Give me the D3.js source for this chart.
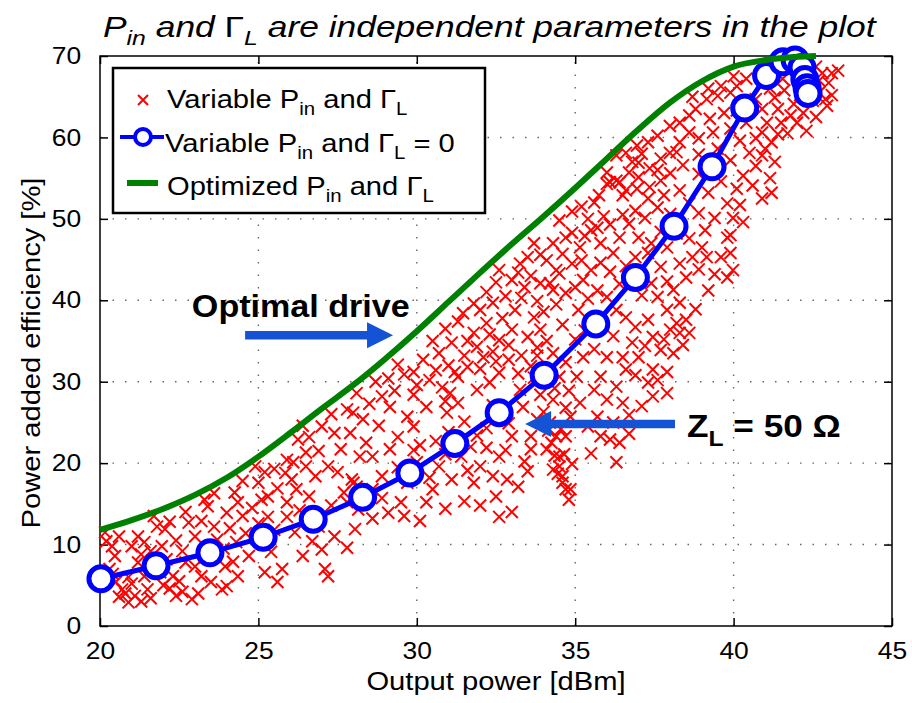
<!DOCTYPE html>
<html>
<head>
<meta charset="utf-8">
<script src="https://cdn.jsdelivr.net/npm/d3@7"></script>
<style>
  body { margin: 0; background: #fff; }
  svg { display: block; font-family: "Liberation Sans", Arial, sans-serif; }
  text { white-space: pre; }
</style>
</head>
<body>
<div id="chart"></div>
<script>
// axis ticks
const xTicks = [20, 25, 30, 35, 40, 45];
const yTicks = [0, 10, 20, 30, 40, 50, 60, 70];

// red crosses: variable Pin and Gamma_L  [Pout dBm, PAE %]
const sweepPoints = [
  [20.16,11.5],[20.38,9.8],[20.47,8.6],[20.3,7.0],[20.7,4.5],[20.9,2.9],[21.1,3.7],[21.0,9.8],[21.2,11.0],[21.4,6.1],
  [21.5,4.5],[21.7,13.5],[21.8,12.2],[22.05,11.9],[21.95,9.8],[22.3,6.1],[22.4,3.7],[22.6,4.2],[22.7,14.0],[22.8,12.7],
  [23.0,7.3],[23.2,6.1],[23.3,15.5],[23.4,14.7],[23.6,12.2],[23.7,10.6],[23.85,4.5],[24.0,4.9],[23.95,7.3],[24.25,16.4],
  [24.35,15.2],[24.5,13.5],[24.7,8.6],[24.9,19.6],[25.0,17.6],[25.1,15.5],[25.3,15.9],[25.4,9.1],[25.6,5.4],[25.75,7.0],
  [25.85,18.8],[26.05,18.0],[25.9,20.4],[26.25,22.9],[26.4,24.6],[26.5,21.3],[26.6,15.9],[26.8,18.4],[27.0,9.4],[27.1,7.0],
  [27.2,6.1],[27.4,23.7],[27.6,21.7],[27.8,26.6],[27.95,18.0],[28.05,11.9],[28.15,14.3],[27.4,11.0],[26.15,11.5],[26.4,8.6],
  [24.35,6.1],[23.5,5.4],[22.7,7.8],[21.2,7.8],[20.5,5.4],
  [20.6,3.6],[20.8,4.0],[21.3,3.0],[21.6,3.4],[22.0,5.0],[22.2,4.6],[22.9,3.3],[23.1,4.0],[22.5,5.5],[21.9,6.6],
  [20.9,6.0],[21.3,8.8],[22.1,8.2],[22.6,9.2],[23.3,8.4],[23.9,9.5],[24.3,10.3],[24.6,11.4],[25.0,12.6],[25.5,11.8],
  [25.9,13.4],[26.3,14.2],[26.9,12.2],[27.3,14.8],[27.7,16.4],[28.1,17.1],[24.2,7.9],[25.2,6.6],[26.7,10.4],[27.8,9.6],
  [20.2,10.4],[20.6,11.0],[20.4,6.4],[21.0,5.2],[21.6,9.2],[21.4,10.3],[22.4,10.5],[22.2,12.8],[23.0,11.0],[23.2,12.9],
  [23.6,16.3],[24.0,13.9],[24.1,12.0],[24.5,17.8],[24.8,14.5],[25.3,13.4],[25.6,16.9],[25.9,15.2],[26.2,16.8],[26.5,19.6],
  [26.1,20.1],[25.5,19.3],[25.2,18.9],
  [26.9,21.5],[27.2,19.6],[27.5,18.9],[26.6,23.2],[27.0,24.5],[27.3,26.0],[28.3,25.4],[28.5,27.3],[28.1,28.6],[28.8,24.6],
  [28.7,30.0],[29.1,30.4],[29.6,30.9],[29.3,28.9],[29.9,31.2],
  [31.46,38.4],[32.0,38.8],[32.4,39.7],[32.6,43.7],[33.0,42.5],[33.26,44.5],[33.5,45.3],[33.9,42.1],[34.1,44.9],[34.4,43.7],
  [33.7,37.9],[33.9,36.4],[33.5,35.5],[33.0,36.4],[32.6,35.1],[32.2,37.2],[31.8,36.0],[31.1,34.8],[30.7,33.5],[30.2,32.7],
  [30.4,30.2],[29.4,32.1],[28.9,28.2],[29.15,26.9],[27.99,26.2],[27.9,23.7],[28.4,22.5],[28.6,20.8],[29.7,25.7],[29.9,24.5],
  [30.3,26.9],[30.95,26.2],[31.05,28.6],[31.3,30.6],[31.6,31.8],[31.9,29.0],[32.3,29.9],[32.6,31.1],[32.9,32.7],[32.1,33.0],
  [33.26,29.0],[33.35,26.9],[33.6,23.3],[33.0,23.3],[32.6,20.8],[32.85,18.0],[32.5,15.9],[33.0,14.0],[32.0,19.6],[31.8,17.6],
  [31.4,20.8],[31.1,18.0],[30.7,19.6],[30.5,16.8],[30.3,15.2],[30.0,20.1],[29.7,17.6],[29.5,15.2],[29.15,21.7],[28.9,18.4],
  [28.6,16.8],[28.2,20.8],[28.0,17.6],[27.8,15.2],[34.5,30.6],[34.3,27.8],[34.4,23.3],[34.5,19.6],[34.7,16.8],[34.2,25.0],
  [34.1,21.7],
  [30.6,22.7],[31.0,23.8],[31.5,25.1],[31.7,22.0],[32.2,24.3],[32.4,27.1],[31.3,27.4],[30.8,29.3],[29.4,23.2],[29.9,28.4],
  [30.1,22.2],[32.8,21.6],[33.4,20.2],[33.2,17.1],[32.9,24.9],[31.9,34.3],[32.4,33.7],[32.9,34.5],[33.3,33.2],[33.6,31.9],
  [33.8,34.2],[33.3,40.3],[33.8,39.9],[34.3,41.3],[33.1,38.8],
  [30.5,35.0],[30.9,36.5],[31.3,37.4],[31.0,32.0],[31.5,33.2],[31.8,39.6],[32.2,41.0],[32.5,42.2],[32.8,40.5],[33.2,43.4],
  [33.6,43.0],[33.4,41.6],[32.7,37.8],[32.3,35.8],[31.6,35.0],[31.2,31.2],[30.6,31.4],[30.0,29.6],[30.9,27.6],[32.0,31.6],
  [32.5,32.5],[33.2,31.0],[33.7,30.5],[33.8,33.2],[34.1,35.0],[34.0,38.6],[34.4,39.5],[34.6,37.0],[34.3,33.5],[34.7,32.4],
  [35.0,35.2],[35.3,36.3],[35.1,38.8],[35.4,40.2],[35.0,41.6],
  [33.9,28.4],[34.0,26.3],[34.15,24.0],[34.25,22.5],[34.35,20.9],[34.45,18.7],[34.6,17.6],[34.8,15.5],[34.65,21.1],[34.55,24.2],
  [34.7,26.8],[34.9,19.9],[34.35,29.2],[34.8,28.9],
  [28.6,13.2],[29.1,13.9],[29.6,13.5],[30.1,12.9],[30.9,14.4],[31.5,15.3],[32.0,14.8],[32.6,13.4],
  [28.9,15.7],[29.4,19.5],[29.9,21.6],[30.4,18.2],[30.9,21.1],[31.6,19.1],[32.2,21.9],[32.4,18.4],[31.9,23.4],[33.6,21.7],
  [33.8,25.4],[33.5,19.0],
  [36.0,54.3],[36.3,54.7],[36.6,53.5],[37.0,55.1],[37.35,53.9],[37.7,54.7],[38.3,53.5],[38.6,51.9],[38.9,50.7],[39.8,51.9],
  [39.8,47.7],[39.98,43.7],[39.6,45.3],[39.0,46.5],[38.7,45.3],[38.5,42.8],[38.3,39.7],[38.5,37.6],[38.3,36.0],[38.0,36.4],
  [37.9,38.8],[37.6,40.4],[37.4,42.1],[37.7,44.1],[37.9,46.5],[37.3,45.8],[37.0,47.7],[36.7,49.4],[36.4,47.7],[36.2,45.8],
  [35.8,47.0],[35.5,48.6],[35.15,46.5],[34.9,44.5],[34.7,47.7],[34.5,49.8],[34.3,47.0],[34.5,43.3],[34.2,42.1],[34.7,40.9],
  [35.25,42.5],[35.5,43.7],[35.7,41.2],[36.0,40.4],[36.3,38.8],[36.6,37.9],[36.9,36.7],[37.3,37.6],[37.45,35.5],[37.7,33.9],
  [37.45,31.5],[37.3,29.9],[37.45,28.2],[37.0,33.0],[36.8,34.8],[36.5,33.0],[36.6,31.5],[36.3,29.4],[36.5,27.4],[36.2,25.0],
  [36.4,22.5],[36.3,20.1],[36.0,33.0],[35.8,30.6],[35.6,29.0],[36.0,27.8],[35.7,25.7],[35.8,23.3],[35.25,33.0],[35.05,30.6],
  [35.15,27.4],[34.85,25.7],[34.7,23.3],[34.5,20.8],[34.6,18.4],[34.85,16.8],[34.3,19.2],[38.2,37.2],[38.6,36.0],[39.15,45.3],
  [39.8,42.8],[39.9,45.8],
  [36.9,30.8],[37.1,27.0],[36.7,25.9],[37.6,30.2],[37.9,28.6],[36.1,22.9],[36.7,23.6],[35.4,24.5],[35.5,21.2],[37.2,34.4],
  [36.2,35.6],[35.6,34.0],[38.4,34.5],
  [34.9,48.3],[35.3,47.9],[35.7,48.9],[36.1,49.3],[36.5,50.5],[36.9,51.0],[37.2,50.1],[37.6,51.4],[38.0,50.6],[38.2,48.2],
  [37.7,48.4],[37.4,47.0],[36.9,45.3],[36.6,44.2],[36.1,43.5],[35.8,44.6],[35.2,44.9],[34.6,45.7],[36.4,42.0],[37.1,40.6],
  [37.9,42.3],[38.3,44.5],[38.6,47.6],[39.1,48.6],[39.4,50.1],[39.2,53.2],[39.6,54.6],[38.9,55.5],[38.4,56.6],[38.0,55.6],
  [37.6,56.0],[38.9,57.9],[39.5,58.6],[38.2,58.2],[37.1,58.0],[36.8,57.0],
  [38.8,38.9],[39.2,41.2],[39.4,43.2],[38.9,43.8],[38.1,41.3],[37.8,35.2],[37.9,31.2],[38.1,33.5],
  [40.1,66.3],[40.4,67.2],[39.9,65.5],[39.5,65.1],[39.15,64.7],[38.8,63.5],[38.6,62.7],[38.3,61.8],[37.99,61.4],[37.6,60.2],
  [37.3,59.4],[36.95,59.0],[36.6,58.1],[36.3,57.8],[36.0,55.7],[39.7,63.0],[39.9,61.1],[39.35,60.6],[39.25,62.3],[38.9,59.9],
  [38.6,60.6],[38.3,59.4],[37.99,58.1],[37.7,57.4],[37.35,56.2],[37.0,56.9],[36.7,55.7],[36.4,54.5],[36.1,54.5],[35.75,52.9],
  [40.7,64.7],[40.9,63.5],[41.05,61.8],[41.4,63.5],[41.5,61.8],[40.9,60.6],[41.2,59.4],[40.7,59.9],[40.5,58.1],[40.9,57.8],
  [40.7,56.5],[41.15,55.0],[41.2,53.2],[40.3,55.3],[40.1,53.7],[40.2,51.7],[40.3,49.6],[39.98,50.1],[39.9,48.0],[42.8,67.9],
  [43.0,66.7],[42.7,65.5],[42.95,63.9],[42.2,63.0],[42.0,61.8],[41.8,62.7],[41.9,68.8],[41.55,67.2],[41.15,66.0],[36.5,52.9],
  [36.95,53.7],[37.3,52.5],[37.8,52.9],
  [35.2,51.5],[35.4,50.0],[34.9,50.9],[35.9,50.3],[35.6,52.0],[33.7,47.0],[33.9,45.6],
  [43.3,68.2],[43.1,65.2],[42.5,64.5],[42.6,62.5],[41.7,60.5],[42.3,60.8],
  [39.9,57.2],[40.2,59.6],[40.4,61.8],[40.1,63.3],[39.6,66.3],[40.0,67.5],[39.2,66.0],[38.7,65.0],[41.3,64.9],[41.6,65.8],
  [42.1,65.2],[42.4,66.3],[42.7,67.0],[43.1,67.9],[42.6,68.7],[42.9,64.7],[41.9,64.1],[41.4,60.4],[41.0,58.6],[40.6,54.1],
  [40.9,52.5],[41.3,57.0]
];

// blue circles: variable Pin, Gamma_L = 0
const matchedPoints = [
  [20.03,5.8],[21.77,7.4],[23.47,9.0],[25.15,10.9],[26.73,13.1],[28.29,15.8],[29.78,18.8],[31.2,22.4],
  [32.6,26.2],[34.02,30.8],[35.65,37.1],[36.9,42.8],[38.12,49.1],[39.32,56.4],[40.35,63.6],[41.04,67.6],
  [41.56,69.3],[41.94,69.5],[42.16,68.6],[42.25,67.1],[42.32,66.1],[42.35,65.4]
];

// green line: optimized Pin and Gamma_L
const optimumPoints = [
  [20,11.8],[21,13.0],[22,14.4],[23,16.1],[24,18.2],[25,20.8],[26,23.7],[27,26.7],[28,29.6],[29,32.8],
  [30,36.2],[31,39.8],[32,43.4],[33,46.9],[34,50.3],[35,53.8],[36,57.4],[37,61.0],[38,64.3],[39,66.9],
  [40,68.7],[41,69.5],[42,69.9],[42.6,70.0]
];

const SX = 1.1; // horizontal stretch of the text in the original export

const W = 912, H = 703;
const margin = { top: 56, right: 20, bottom: 77, left: 100 };
const x = d3.scaleLinear().domain([20, 45]).range([margin.left, W - margin.right]);
const y = d3.scaleLinear().domain([0, 70]).range([H - margin.bottom, margin.top]);

const svg = d3.select("#chart").append("svg").attr("width", W).attr("height", H);

// rich text with subscripts, stretched like the reference
function richText(parent, px, py, parts, size, opts = {}) {
  const t = parent.append("text")
    .attr("transform", `translate(${px},${py}) scale(${opts.sx || SX},1)`)
    .attr("font-size", size)
    .attr("text-anchor", opts.anchor || "start")
    .attr("font-weight", opts.bold ? "bold" : null)
    .attr("font-style", opts.italic ? "italic" : null)
    .attr("fill", "#000");
  const shift = size * 0.27;
  let down = false;
  parts.forEach(p => {
    const s = typeof p === "string" ? { t: p } : p;
    const ts = t.append("tspan").text(s.t);
    if (s.sub) {
      ts.attr("font-size", size * 0.7).attr("dy", down ? 0 : shift);
      down = true;
    } else {
      if (down) ts.attr("dy", -shift);
      down = false;
    }
    if (s.upright) ts.attr("font-style", "normal");
  });
  return t;
}

// grid
const grid = svg.append("g").attr("stroke", "#666").attr("stroke-width", 1.4).attr("stroke-dasharray", "1.5,11");
grid.selectAll(".gx").data(xTicks.slice(1, -1)).join("line")
  .attr("x1", d => x(d)).attr("x2", d => x(d)).attr("y1", y(0)).attr("y2", y(70));
grid.selectAll(".gy").data(yTicks.slice(1, -1)).join("line")
  .attr("x1", x(20)).attr("x2", x(45)).attr("y1", d => y(d)).attr("y2", d => y(d));

// axes with inward ticks
const axisStyle = g => {
  g.select(".domain").remove();
  g.selectAll("line").attr("stroke", "#000").attr("stroke-width", 1.5);
  g.selectAll("text").attr("font-size", 24).attr("fill", "#000")
    .attr("font-family", '"Liberation Sans", Arial, sans-serif');
};
svg.append("g").attr("transform", `translate(0,${y(0)})`)
  .call(d3.axisBottom(x).tickValues(xTicks).tickSizeInner(-8).tickSizeOuter(0).tickPadding(16))
  .call(axisStyle)
  .call(g => g.selectAll("text").attr("transform", `scale(${SX},1)`));
svg.append("g").attr("transform", `translate(${x(20)},0)`)
  .call(d3.axisLeft(y).tickValues(yTicks).tickSizeInner(-8).tickSizeOuter(0).tickPadding(18))
  .call(axisStyle)
  .call(g => g.selectAll("text").attr("transform", `translate(-10,0) scale(${SX},1) translate(10,0)`));
svg.append("g").attr("transform", `translate(0,${y(70)})`)
  .call(d3.axisTop(x).tickValues(xTicks).tickSizeInner(-8).tickSizeOuter(0).tickFormat(""))
  .call(axisStyle);
svg.append("g").attr("transform", `translate(${x(45)},0)`)
  .call(d3.axisRight(y).tickValues(yTicks).tickSizeInner(-8).tickSizeOuter(0).tickFormat(""))
  .call(axisStyle);
svg.append("rect")
  .attr("x", x(20)).attr("y", y(70)).attr("width", x(45) - x(20)).attr("height", y(0) - y(70))
  .attr("fill", "none").attr("stroke", "#000").attr("stroke-width", 1.5);

// red crosses
const cross = "M-6,-6L6,6M-6,6L6,-6";
svg.append("g").selectAll("path").data(sweepPoints).join("path")
  .attr("transform", d => `translate(${x(d[0])},${y(d[1])})`)
  .attr("d", cross).attr("stroke", "#ff0000").attr("stroke-width", 2).attr("fill", "none");

// blue line with open circles
const line = d3.line().x(d => x(d[0])).y(d => y(d[1]));
svg.append("path").datum(matchedPoints).attr("d", line)
  .attr("fill", "none").attr("stroke", "#0000ff").attr("stroke-width", 5).attr("stroke-linejoin", "round");
svg.append("g").selectAll("circle").data(matchedPoints).join("circle")
  .attr("cx", d => x(d[0])).attr("cy", d => y(d[1])).attr("r", 12)
  .attr("fill", "#fff").attr("stroke", "#0000ff").attr("stroke-width", 5);

// green optimum curve
svg.append("path").datum(optimumPoints).attr("d", line.curve(d3.curveMonotoneX))
  .attr("fill", "none").attr("stroke", "#008000").attr("stroke-width", 6);

// title
richText(svg, 103, 37,
  ["P", { t: "in", sub: true }, " and ", { t: "Γ", upright: true }, { t: "L", sub: true },
   " are independent parameters in the plot"], 30, { italic: true, sx: 1.18 });

// axis labels
richText(svg, (x(20) + x(45)) / 2, 690, ["Output power [dBm]"], 26.5, { anchor: "middle" });
svg.append("text")
  .attr("transform", `translate(40,${(y(0) + y(70)) / 2 + 12}) rotate(-90) scale(${SX},1)`)
  .attr("text-anchor", "middle").attr("font-size", 26.5).text("Power added efficiency [%]");

// legend
const lg = svg.append("g");
lg.append("rect").attr("x", 113).attr("y", 68).attr("width", 372).attr("height", 145)
  .attr("fill", "#fff").attr("stroke", "#000").attr("stroke-width", 2.5);
lg.append("path").attr("transform", "translate(143,100)").attr("d", "M-5,-5L5,5M-5,5L5,-5")
  .attr("stroke", "#ff0000").attr("stroke-width", 2).attr("fill", "none");
richText(lg, 167, 108, ["Variable P", { t: "in", sub: true }, " and Γ", { t: "L", sub: true }], 26.5);
lg.append("line").attr("x1", 120).attr("x2", 164).attr("y1", 137).attr("y2", 137)
  .attr("stroke", "#0000ff").attr("stroke-width", 4);
lg.append("circle").attr("cx", 143).attr("cy", 137).attr("r", 8)
  .attr("fill", "#fff").attr("stroke", "#0000ff").attr("stroke-width", 4);
richText(lg, 165, 152, ["Variable P", { t: "in", sub: true }, " and Γ", { t: "L", sub: true }, " = 0"], 26.5);
lg.append("line").attr("x1", 127).attr("x2", 158).attr("y1", 183).attr("y2", 183)
  .attr("stroke", "#008000").attr("stroke-width", 6);
richText(lg, 167, 195, ["Optimized P", { t: "in", sub: true }, " and Γ", { t: "L", sub: true }], 26.5);

// annotation arrows
function arrow(x0, x1, yy) {
  const dir = Math.sign(x1 - x0), hl = 26, hh = 13, sw = 4.2;
  const xb = x1 - dir * hl;
  return `M${x0},${yy - sw}L${xb},${yy - sw}L${xb},${yy - hh}L${x1},${yy}L${xb},${yy + hh}L${xb},${yy + sw}L${x0},${yy + sw}Z`;
}
svg.append("path").attr("d", arrow(x(24.58), x(29.25), y(35.7))).attr("fill", "#1553d6");
svg.append("path").attr("d", arrow(x(38.15), x(33.42), y(24.8))).attr("fill", "#1553d6");

richText(svg, x(22.9), y(37.9), ["Optimal drive"], 31, { bold: true });
richText(svg, x(38.53), y(23.2), ["Z", { t: "L", sub: true }, " = 50 Ω"], 32, { bold: true });
</script>
</body>
</html>
